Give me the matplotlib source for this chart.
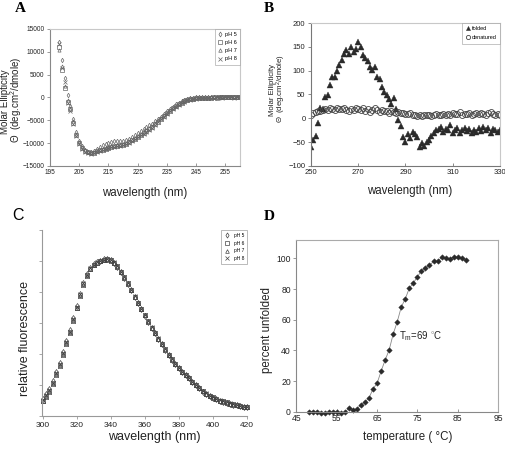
import matplotlib
matplotlib.use('Agg')
import matplotlib.pyplot as plt

plt.rcParams['font.family'] = ['Liberation Sans', 'DejaVu Sans']
plt.rcParams['mathtext.fontset'] = 'custom'
plt.rcParams['mathtext.rm'] = 'Liberation Sans'
plt.rcParams['mathtext.it'] = 'Liberation Sans:italic'

# ---------------- Panel A: far-UV CD at several pH ----------------
a_wl = list(range(198, 261))
a_ph5 = [12200, 8200, 4200, 500, -1800, -4800, -7600, -9500, -10700, -11500, -11900, -12000, -11700,
         -11200, -10800, -10400, -10100, -9900, -9700, -9600, -9600, -9500, -9500, -9300, -9000, -8600,
         -8200, -7800, -7300, -6900, -6500, -6100, -5700, -5200, -4700, -4200, -3600, -3000, -2500,
         -2000, -1500, -1100, -800, -500, -300, -150, -50, 0, 50, 100, 100, 150, 100, 150, 120, 180,
         150, 200, 150, 200, 180, 200, 150]
a_ph6 = [11000, 6000, 2000, -1000, -2600, -5600, -8200, -9900, -11000, -11700, -12000, -12200, -12100,
         -11800, -11600, -11400, -11200, -11000, -10800, -10700, -10600, -10500, -10400, -10100, -9800,
         -9400, -9000, -8600, -8200, -7800, -7400, -7000, -6500, -5900, -5300, -4700, -4100, -3500,
         -2900, -2400, -1900, -1500, -1100, -800, -600, -400, -300, -200, -150, -100, -80, -50, -30, 0,
         -20, 10, 0, 20, 0, 30, 10, 20, 0]
a_ph7 = [10500, 7000, 2500, -600, -2300, -5200, -7900, -9700, -10900, -11600, -11900, -12100, -12000,
         -11700, -11500, -11300, -11100, -10900, -10700, -10600, -10500, -10300, -10200, -9900, -9600,
         -9200, -8800, -8400, -8000, -7600, -7200, -6700, -6200, -5600, -5000, -4400, -3800, -3300,
         -2700, -2200, -1800, -1400, -1000, -700, -500, -350, -250, -150, -100, -60, -40, -20, 0, 10, 0,
         20, 10, 0, 20, 10, 30, 0, 20]
a_ph8 = [11800, 6500, 3500, -1200, -2900, -5900, -8500, -10200, -11200, -11900, -12200, -12300, -12200,
         -11900, -11700, -11500, -11300, -11100, -10900, -10800, -10700, -10600, -10400, -10200, -9900,
         -9500, -9100, -8700, -8300, -7900, -7500, -7100, -6600, -6000, -5400, -4800, -4200, -3600,
         -3000, -2500, -2000, -1600, -1200, -900, -650, -450, -320, -220, -160, -110, -70, -40, -20,
         -10, 10, 0, -10, 10, 0, 20, -10, 10, 0]
a_xticks = [195, 205, 215, 225, 235, 245, 255]
a_yticks = [-15000, -10000, -5000, 0, 5000, 10000, 15000]

# ---------------- Panel B: near-UV CD ----------------
b_wl = list(range(250, 331))
b_folded = [-60, -45, -38, -10, 22, 20, 45, 48, 70, 86, 87, 100, 112, 122, 134, 143, 136, 150, 140, 145,
            160, 150, 133, 127, 120, 108, 101, 108, 87, 82, 66, 55, 49, 40, 31, 42, 20, -3, -17, -40,
            -50, -32, -42, -28, -32, -40, -60, -52, -58, -50, -45, -38, -30, -25, -22, -18, -28, -22,
            -25, -15, -30, -25, -21, -30, -25, -20, -27, -22, -30, -25, -28, -21, -26, -18, -25, -20,
            -30, -22, -25, -28, -25]
b_denatured = [8, 12, 14, 16, 15, 18, 20, 17, 22, 20, 18, 22, 20, 19, 22, 18, 16, 20, 18, 22, 20, 18,
               22, 16, 20, 14, 18, 22, 17, 14, 18, 15, 16, 12, 15, 14, 12, 14, 11, 12, 10, 9, 11, 7, 8,
               4, 6, 5, 7, 6, 8, 5, 7, 9, 6, 8, 10, 7, 9, 8, 11, 9, 10, 14, 8, 10, 9, 12, 8, 10, 12, 9,
               11, 10, 8, 12, 14, 9, 8, 10, 7]
b_xticks = [250, 270, 290, 310, 330]
b_yticks = [-100, -50, 0, 50, 100, 150, 200]

# ---------------- Panel C: fluorescence ----------------
c_wl = list(range(300, 421, 2))
c_ph5 = [0.11, 0.14, 0.175, 0.225, 0.285, 0.345, 0.415, 0.485, 0.555, 0.635, 0.71, 0.79, 0.86, 0.915,
         0.955, 0.98, 0.995, 1.003, 1.01, 1.012, 1.005, 0.99, 0.963, 0.928, 0.893, 0.853, 0.813, 0.768,
         0.728, 0.688, 0.648, 0.608, 0.568, 0.533, 0.498, 0.463, 0.428, 0.393, 0.363, 0.333, 0.308,
         0.283, 0.263, 0.243, 0.218, 0.198, 0.178, 0.158, 0.143, 0.128, 0.118, 0.108, 0.098, 0.092,
         0.086, 0.079, 0.074, 0.069, 0.064, 0.059, 0.055]
c_ph6 = [0.10, 0.13, 0.16, 0.21, 0.27, 0.33, 0.40, 0.47, 0.54, 0.62, 0.70, 0.78, 0.85, 0.91, 0.95,
         0.975, 0.99, 1.0, 1.008, 1.01, 1.005, 0.99, 0.965, 0.93, 0.895, 0.855, 0.815, 0.77, 0.73,
         0.69, 0.65, 0.61, 0.57, 0.535, 0.50, 0.465, 0.43, 0.395, 0.365, 0.335, 0.31, 0.285, 0.265,
         0.245, 0.22, 0.20, 0.18, 0.16, 0.145, 0.13, 0.12, 0.11, 0.10, 0.094, 0.088, 0.08, 0.075,
         0.07, 0.065, 0.06, 0.056]
c_ph7 = [0.095, 0.125, 0.155, 0.205, 0.265, 0.325, 0.395, 0.465, 0.535, 0.615, 0.695, 0.775, 0.845,
         0.905, 0.948, 0.973, 0.988, 0.998, 1.006, 1.008, 1.003, 0.988, 0.962, 0.928, 0.893, 0.853,
         0.813, 0.769, 0.729, 0.689, 0.649, 0.609, 0.569, 0.534, 0.499, 0.464, 0.429, 0.394, 0.364,
         0.334, 0.309, 0.284, 0.264, 0.244, 0.219, 0.199, 0.179, 0.159, 0.144, 0.129, 0.119, 0.109,
         0.099, 0.093, 0.087, 0.079, 0.074, 0.069, 0.064, 0.059, 0.055]
c_ph8 = [0.105, 0.135, 0.165, 0.215, 0.275, 0.335, 0.405, 0.475, 0.545, 0.625, 0.705, 0.785, 0.855,
         0.912, 0.952, 0.977, 0.992, 1.002, 1.009, 1.011, 1.006, 0.991, 0.966, 0.931, 0.896, 0.856,
         0.816, 0.771, 0.731, 0.691, 0.651, 0.611, 0.571, 0.536, 0.501, 0.466, 0.431, 0.396, 0.366,
         0.336, 0.311, 0.286, 0.266, 0.246, 0.221, 0.201, 0.181, 0.161, 0.146, 0.131, 0.121, 0.111,
         0.101, 0.095, 0.089, 0.081, 0.076, 0.071, 0.066, 0.061, 0.057]
c_xticks = [300, 320, 340, 360, 380, 400, 420]
c_yticks = [0, 0.2, 0.4, 0.6, 0.8, 1.0, 1.2]

# ---------------- Panel D: thermal melt ----------------
d_temp = list(range(48, 88))
d_unfold = [-0.5, 0, -0.5, -1, -1, -0.5, -0.5, 0, -1, -0.5, 2.4, 1, 2, 4.5, 6.5, 9, 15, 18.5, 26.5,
            33.7, 40.4, 50.7, 58.7, 68.3, 73.7, 80.6, 84, 88, 92, 94, 95.5, 98, 98, 100.6, 100.2,
            99.6, 101, 100.6, 100.2, 99]
d_xticks = [45, 55, 65, 75, 85, 95]
d_yticks = [0, 20, 40, 60, 80, 100]
d_tm = 69

ph_labels = ['pH 5', 'pH 6', 'pH 7', 'pH 8']

W, H = 506, 450
fig = plt.figure(figsize=(W / 100, H / 100), dpi=100)


def ax_px(l, t, r, b):
    return fig.add_axes([l / W, 1 - b / H, (r - l) / W, (b - t) / H])


def style(ax, c_main='#888888', c_light='#c8c8c8', top=True, right=True, size=5):
    for s in ['left', 'bottom']:
        ax.spines[s].set_color(c_main)
        ax.spines[s].set_linewidth(0.8)
    for s in ['top', 'right']:
        ax.spines[s].set_color(c_light)
        ax.spines[s].set_linewidth(0.8)
        ax.spines[s].set_visible(top if s == 'top' else right)
    ax.tick_params(axis='y', direction='out', length=2.5, width=0.6, color=c_main,
                   labelsize=size, pad=1.5, labelcolor='#222222')
    ax.tick_params(axis='x', direction='in', length=2.5, width=0.6, color=c_main,
                   labelsize=size, pad=2, labelcolor='#222222')


def fig_text(x, y, s, **kw):
    fig.text(x / W, 1 - y / H, s, ha='center', va='center', **kw)


# ----- A -----
axA = ax_px(50, 29, 240, 166)
mk_a = [('d', 'none'), ('s', 'none'), ('^', 'none'), ('x', '#777777')]
for (m, fc), ys, lab in zip(mk_a, [a_ph5, a_ph6, a_ph7, a_ph8], ph_labels):
    axA.plot(a_wl, ys, linestyle='none', marker=m, markersize=2.3, markerfacecolor=fc,
             markeredgecolor='#666666', markeredgewidth=0.5, label=lab)
axA.set_xlim(195, 260)
axA.set_ylim(-15000, 15000)
axA.set_xticks(a_xticks)
axA.set_yticks(a_yticks)
style(axA, size=4.7)
legA = axA.legend(loc='upper right', fontsize=4, frameon=True, fancybox=False, borderaxespad=0,
                  handlelength=0.8, handletextpad=0.4, labelspacing=0.55, borderpad=0.6, markerscale=1.1)
legA.get_frame().set_edgecolor('#999999')
legA.get_frame().set_linewidth(0.5)
fig_text(5, 102, 'Molar Ellipticity', rotation=90, fontsize=7, color='#222222')
fig_text(16.5, 100, 'Θ  (deg.cm$^2$/dmole)', rotation=90, fontsize=7, color='#222222')
fig_text(145, 193, 'wavelength (nm)', fontsize=8.3, color='#222222')

# ----- B -----
axB = ax_px(311, 23, 500, 166)
axB.plot(b_wl, b_folded, linestyle='none', marker='^', markersize=4.3, color='#2a2a2a',
         markeredgewidth=0.3, label='folded')
axB.plot(b_wl, b_denatured, linestyle='none', marker='o', markersize=4.3, markerfacecolor='none',
         markeredgecolor='#444444', markeredgewidth=0.6, label='denatured')
axB.set_xlim(250, 330)
axB.set_ylim(-100, 200)
axB.set_xticks(b_xticks)
axB.set_yticks(b_yticks)
style(axB, c_main='#777777', size=5.5)
legB = axB.legend(loc='upper right', fontsize=4, frameon=True, fancybox=False, borderaxespad=0,
                  handlelength=0.7, handletextpad=0.4, labelspacing=0.7, borderpad=0.6, markerscale=0.7)
legB.get_frame().set_edgecolor('#999999')
legB.get_frame().set_linewidth(0.5)
fig_text(272, 90, 'Molar Ellipticity', rotation=90, fontsize=5.6, color='#222222')
fig_text(281, 89, 'Θ  (deg.cm$^2$/dmole)', rotation=90, fontsize=5.6, color='#222222')
fig_text(410, 191, 'wavelength (nm)', fontsize=8.3, color='#222222')

# ----- C -----
axC = ax_px(42.5, 230, 247, 416)
mk_c = [('d', 'none'), ('s', 'none'), ('^', 'none'), ('x', '#333333')]
for (m, fc), ys, lab in zip(mk_c, [c_ph5, c_ph6, c_ph7, c_ph8], ph_labels):
    axC.plot(c_wl, ys, linestyle='none', marker=m, markersize=3.1, markerfacecolor=fc,
             markeredgecolor='#444444', markeredgewidth=0.5, label=lab, clip_on=False)
axC.set_xlim(300, 420)
axC.set_ylim(0, 1.2)
axC.set_xticks(c_xticks)
axC.set_yticks(c_yticks)
axC.set_yticklabels([])
style(axC, c_main='#999999', top=False, right=False, size=6)
axC.tick_params(axis='x', direction='out')
legC = axC.legend(loc='upper right', fontsize=3.5, frameon=True, fancybox=False, borderaxespad=0,
                  handlelength=1.2, handletextpad=0.8, labelspacing=0.55, borderpad=0.6, markerscale=0.85)
legC.get_frame().set_edgecolor('#888888')
legC.get_frame().set_linewidth(0.5)
fig_text(25, 338, 'relative fluorescence', rotation=90, fontsize=9, color='#222222')
fig_text(154, 437, 'wavelength (nm)', fontsize=9, color='#222222')

# ----- D -----
axD = ax_px(296.5, 240, 498, 411.7)
axD.plot(d_temp, d_unfold, linestyle='-', color='#888888', linewidth=0.6, zorder=1)
axD.plot(d_temp, d_unfold, linestyle='none', marker='D', markersize=2.8, color='#2a2a2a',
         markeredgewidth=0.3, zorder=2, clip_on=False)
axD.set_xlim(45, 95)
axD.set_ylim(0, 112)
axD.set_xticks(d_xticks)
axD.set_yticks(d_yticks)
style(axD, c_main='#888888', c_light='#aaaaaa', size=6.2)
axD.text(d_tm + 1.4, 49, 'T$_\\mathrm{m}$=69 $^{\\circ}$C', fontsize=6.9, va='center', ha='left',
         color='#222222')
fig_text(267, 330, 'percent unfolded', rotation=90, fontsize=8.3, color='#222222')
fig_text(408, 437, 'temperature ( °C)', fontsize=8.3, color='#222222')

# Panel letters
fig_text(20, 9, 'A', fontsize=11, fontweight='bold', family='Liberation Serif')
fig_text(269, 9, 'B', fontsize=11, fontweight='bold', family='Liberation Serif')
fig_text(18, 216, 'C', fontsize=11.5, family='Liberation Sans')
fig_text(269, 216, 'D', fontsize=11, fontweight='bold', family='Liberation Serif')

fig.savefig('out.png', dpi=100)
